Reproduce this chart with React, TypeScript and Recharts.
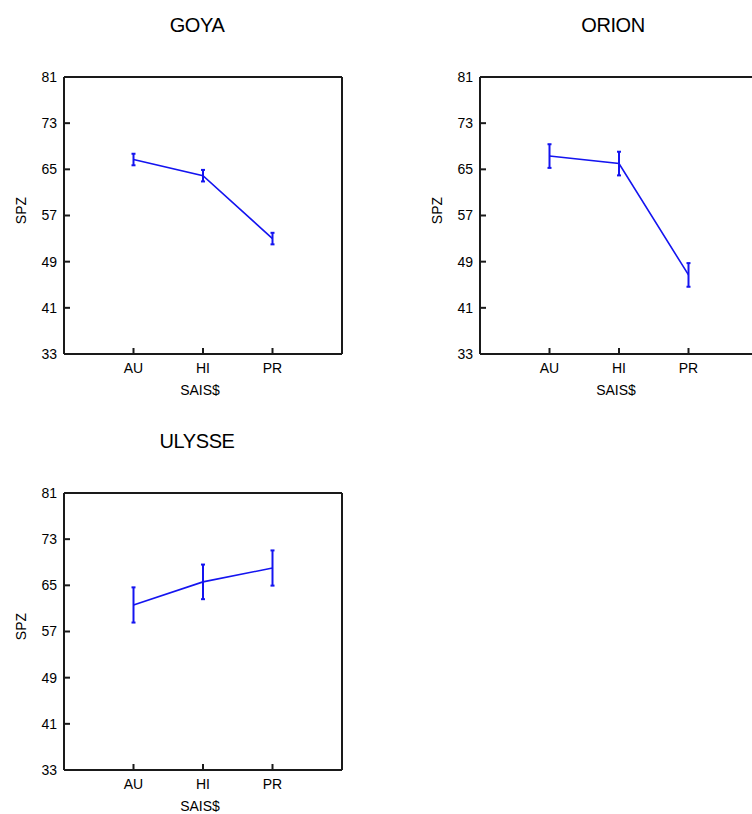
import React from "react"
import { ComposedChart, Line, XAxis, YAxis, ErrorBar } from "recharts"

const seasons = ["AU", "HI", "PR"]
const yTicks = [33, 41, 49, 57, 65, 73, 81]

const goyaMean = [66.7, 63.9, 53.0]
const goyaErr = [1.0, 1.0, 1.0]
const orionMean = [67.3, 66.0, 46.7]
const orionErr = [2.05, 2.05, 2.05]
const ulysseMean = [61.6, 65.6, 68.0]
const ulysseErr = [3.05, 3.0, 3.05]

const font = "'Liberation Sans', Arial, sans-serif"
const blue = "#1414f0"
const frame = "#1a1a1a"

function SpzLabel(props: any) {
  const { viewBox } = props
  const x = viewBox.x + 17
  const y = viewBox.y + viewBox.height / 2 - 5
  return (
    <text x={x} y={y} transform={`rotate(-90, ${x}, ${y})`} textAnchor="middle" dominantBaseline="central"
      fontSize={14} fontFamily={font} fill="#000">
      SPZ
    </text>
  )
}

function Panel({ title, mean, err, left, top }: any) {
  const data = seasons.map((s, i) => ({ x: i + 1, name: s, mean: mean[i], err: err[i] }))

  return (
    <div style={{ position: "absolute", left, top, width: 360, height: 400 }}>
      <div
        style={{
          position: "absolute", left: 0, top: 15, width: 394, textAlign: "center",
          fontFamily: font, fontSize: 20, lineHeight: "20px", letterSpacing: -0.4, color: "#000",
        }}
      >
        {title}
      </div>
      <ComposedChart width={360} height={400} data={data} margin={{ top: 77, right: 18, bottom: 5, left: 4 }}>
        <XAxis
          type="number"
          dataKey="x"
          domain={[0, 4]}
          ticks={[1, 2, 3]}
          tickFormatter={(v: number) => seasons[v - 1]}
          tickSize={-6}
          tickMargin={15}
          height={41}
          interval={0}
          stroke={frame}
          strokeWidth={2}
          tick={{ fill: "#000", fontSize: 14, fontFamily: font }}
          label={{ value: "SAIS$", position: "insideBottom", offset: 0, dx: -3, fill: "#000", fontSize: 14, fontFamily: font }}
        />
        <XAxis
          xAxisId="top"
          orientation="top"
          mirror
          type="number"
          dataKey="x"
          domain={[0, 4]}
          ticks={[1, 2, 3]}
          tick={false}
          tickSize={6}
          stroke={frame}
          strokeWidth={2}
        />
        <YAxis
          type="number"
          domain={[33, 81]}
          ticks={yTicks}
          interval={0}
          width={60}
          tickSize={-6}
          tickMargin={13}
          stroke={frame}
          strokeWidth={2}
          tick={{ fill: "#000", fontSize: 14, fontFamily: font }}
          label={<SpzLabel />}
        />
        <YAxis
          yAxisId="right"
          orientation="right"
          mirror
          type="number"
          domain={[33, 81]}
          ticks={yTicks}
          interval={0}
          tick={false}
          tickSize={6}
          stroke={frame}
          strokeWidth={2}
        />
        <Line
          type="linear"
          dataKey="mean"
          stroke={blue}
          strokeWidth={1.6}
          dot={false}
          isAnimationActive={false}
        >
          <ErrorBar dataKey="err" direction="y" width={2} stroke={blue} strokeWidth={2} isAnimationActive={false} />
        </Line>
      </ComposedChart>
    </div>
  )
}

export default function App() {
  return (
    <div style={{ position: "absolute", left: 0, top: 0, width: 752, height: 814, overflow: "hidden", background: "#fff" }}>
      <Panel title="GOYA" mean={goyaMean} err={goyaErr} left={0} top={0} />
      <Panel title="ORION" mean={orionMean} err={orionErr} left={416} top={0} />
      <Panel title="ULYSSE" mean={ulysseMean} err={ulysseErr} left={0} top={416} />
    </div>
  )
}
